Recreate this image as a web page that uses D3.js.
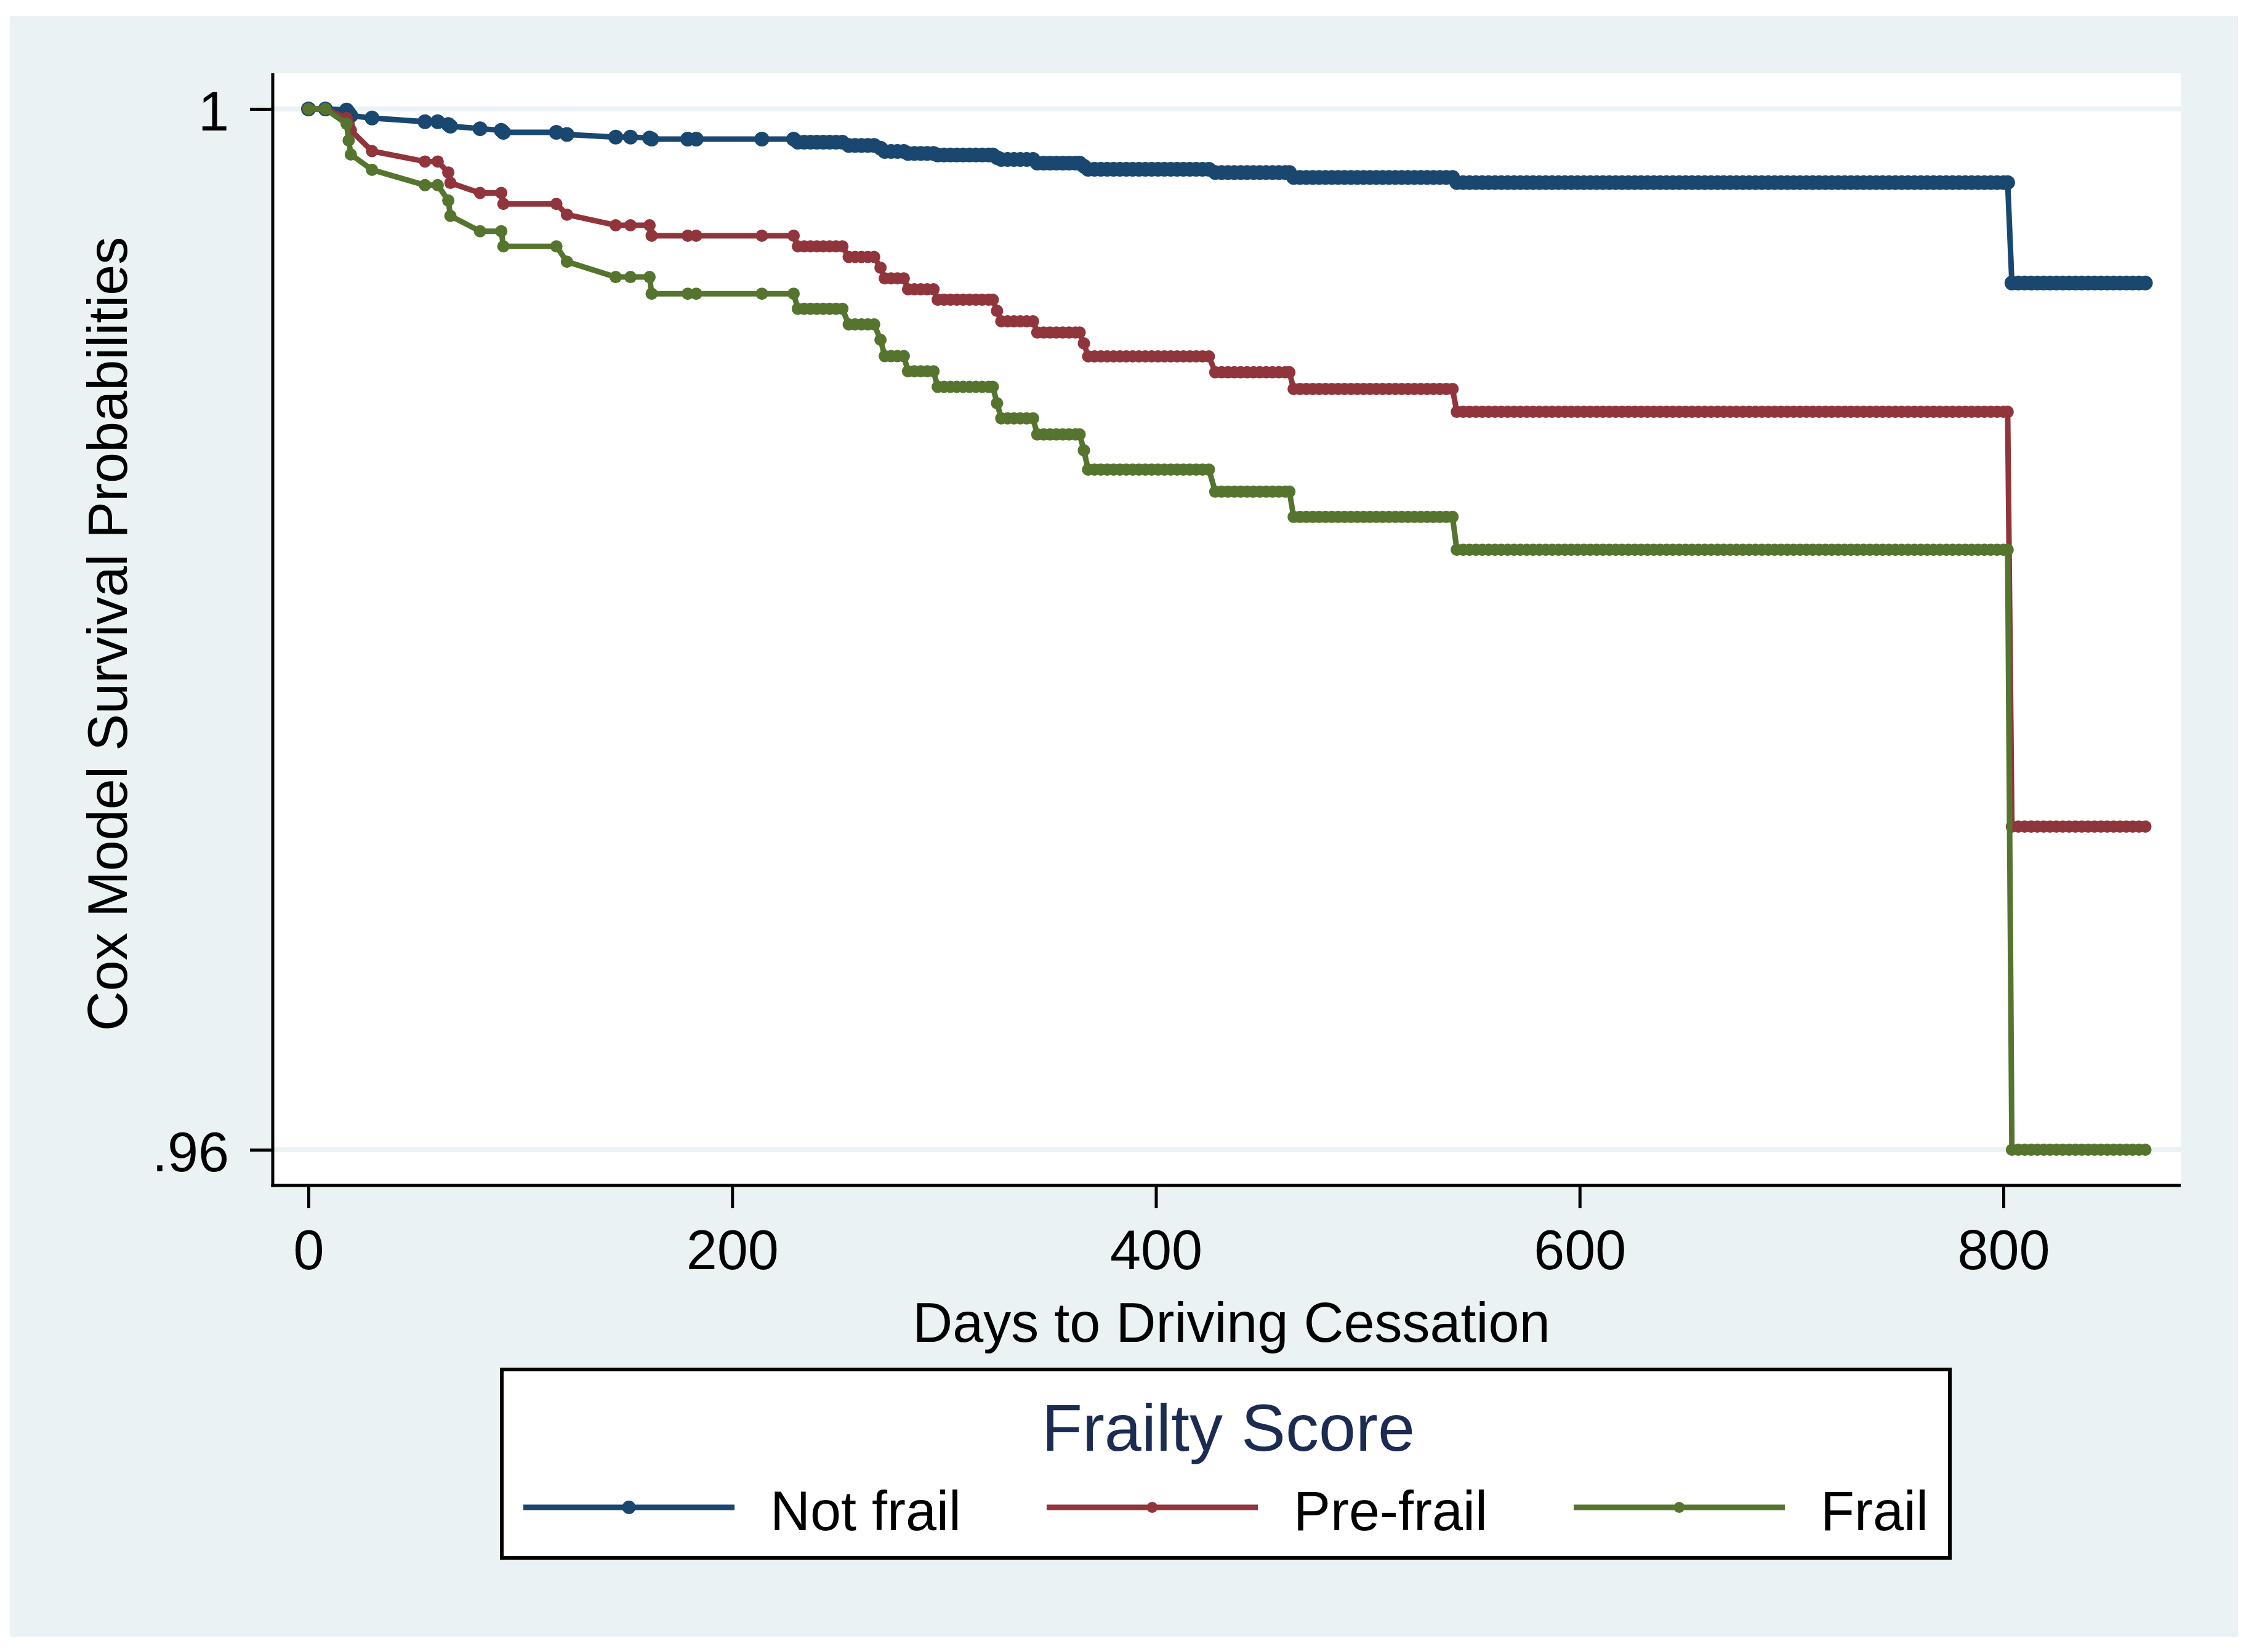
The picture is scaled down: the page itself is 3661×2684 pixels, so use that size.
<!DOCTYPE html>
<html>
<head>
<meta charset="utf-8">
<script src="https://cdn.jsdelivr.net/npm/d3@7"></script>
<style>
  body { margin: 0; background: #fff; }
  svg text { font-family: "Liberation Sans", Arial, Helvetica, sans-serif; }
</style>
</head>
<body>
<svg id="chart" width="3661" height="2684"></svg>
<script>
// days where the baseline survival steps down (shared by all groups)
var eventDays = [0, 18, 19, 20, 30, 55, 66, 67, 81, 91, 92, 122, 145, 161, 162,
  231, 255, 270, 272, 283, 297, 325, 327, 344, 366, 368, 428, 465, 542, 804];
// survival level reached at each of the days above
var notFrail = [1, .99996, .99985, .99974, .99965, .99951, .9994, .99934, .99924, .99918,
  .9991, .99902, .99892, .99888, .99884, .99872, .9986, .99849, .99837, .99829,
  .99823, .99813, .99806, .99792, .9978, .99768, .99756, .99737, .99717, .99331];
var preFrail = [1, .99965, .9994, .99918, .99838, .99798, .99756, .99716, .99677, .99677,
  .99635, .99594, .99553, .99553, .99513, .99472, .99431, .9939, .99349, .99307,
  .99267, .99224, .99184, .99141, .99099, .99049, .98988, .98924, .98836, .97242];
var frail = [1, .99943, .99879, .99825, .99766, .99707, .99648, .99589, .9953, .9953,
  .99472, .99413, .99354, .99354, .9929, .99232, .99172, .99113, .9905, .98992,
  .98932, .98869, .98811, .98749, .98688, .98614, .98529, .98432, .98306, .96];
// other observed days (markers with no drop)
var censorDays = [8, 61, 117, 152, 179, 183, 214, 229,
  234, 237, 240, 243, 246, 249, 252, 258, 261, 264, 267, 275, 278, 281,
  286, 289, 292, 295, 300, 303, 306, 309, 312, 315, 318, 321, 323,
  330, 333, 336, 339, 342, 347, 350, 353, 356, 359, 362, 364,
  371, 374, 377, 380, 383, 386, 389, 392, 395, 398, 401, 404, 407, 410, 413, 416, 419, 422, 425,
  431, 434, 437, 440, 443, 446, 449, 452, 455, 458, 461, 463,
  468, 471, 474, 477, 480, 483, 486, 489, 492, 495, 498, 501, 504, 507, 510, 513, 516, 519,
  522, 525, 528, 531, 534, 537, 540,
  545, 548, 551, 554, 557, 560, 563, 566, 569, 572, 575, 578, 581, 584, 587, 590, 593, 596,
  599, 602, 605, 608, 611, 614, 617, 620, 623, 626, 629, 632, 635, 638, 641, 644, 647, 650,
  653, 656, 659, 662, 665, 668, 671, 674, 677, 680, 683, 686, 689, 692, 695, 698, 701, 704,
  707, 710, 713, 716, 719, 722, 725, 728, 731, 734, 737, 740, 743, 746, 749, 752, 755, 758,
  761, 764, 767, 770, 773, 776, 779, 782, 785, 788, 791, 794, 797, 800, 802,
  807, 810, 813, 816, 819, 822, 825, 828, 831, 834, 837, 840, 843, 846, 849, 852, 855, 858,
  861, 864, 867];
var groupNames = ["Not frail", "Pre-frail", "Frail"];
var groupColors = ["#1a476f", "#90353b", "#55752f"];
var xTicks = [0, 200, 400, 600, 800];
var yTicks = [0.96, 1];
var yTickLabels = [".96", "1"];

var svg = d3.select("#chart");

// outer background
svg.append("rect").attr("x", 16).attr("y", 26).attr("width", 3619).attr("height", 2633)
  .attr("fill", "#eaf2f3");

var plotL = 443, plotR = 3542, plotT = 119, plotB = 1926;
svg.append("rect").attr("x", plotL).attr("y", plotT).attr("width", plotR - plotL)
  .attr("height", plotB - plotT).attr("fill", "#fff");

var x = d3.scaleLinear().domain([0, 800]).range([501, 3254]);
var y = d3.scaleLinear().domain([0.96, 1]).range([1868, 177]);

// gridlines
svg.append("g").selectAll("line").data(yTicks).enter().append("line")
  .attr("x1", plotL).attr("x2", plotR)
  .attr("y1", d => y(d)).attr("y2", d => y(d))
  .attr("stroke", "#eaf2f3").attr("stroke-width", 8);

// build the points of each curve
var allDays = eventDays.concat(censorDays).sort((a, b) => a - b);
function curve(levels) {
  return allDays.map(function(t) {
    var i = d3.bisectRight(eventDays, t) - 1;
    return { day: t, s: levels[i] };
  });
}
var series = [notFrail, preFrail, frail].map(curve);
var radii = [12, 10, 10];

var line = d3.line().x(d => x(d.day)).y(d => y(d.s));

series.forEach(function(pts, k) {
  var g = svg.append("g");
  g.append("path").datum(pts).attr("d", line).attr("fill", "none")
    .attr("stroke", groupColors[k]).attr("stroke-width", 9).attr("stroke-linejoin", "round");
  g.selectAll("circle").data(pts).enter().append("circle")
    .attr("cx", d => x(d.day)).attr("cy", d => y(d.s)).attr("r", radii[k])
    .attr("fill", groupColors[k]);
});

// axes
var yAxis = svg.append("g").attr("transform", "translate(" + plotL + ",0)")
  .call(d3.axisLeft(y).tickValues(yTicks).tickSize(37).tickPadding(34)
    .tickFormat((d, i) => yTickLabels[i]));
yAxis.select(".domain").remove();
yAxis.selectAll("line").attr("stroke", "#000").attr("stroke-width", 5);
yAxis.selectAll("text").attr("font-size", 90).attr("fill", "#000").attr("dy", "0.38em");

var xAxis = svg.append("g").attr("transform", "translate(0," + plotB + ")")
  .call(d3.axisBottom(x).tickValues(xTicks).tickSize(37).tickPadding(35));
xAxis.select(".domain").remove();
xAxis.selectAll("line").attr("stroke", "#000").attr("stroke-width", 5);
xAxis.selectAll("text").attr("font-size", 90).attr("fill", "#000");

svg.append("line").attr("x1", plotL).attr("x2", plotL).attr("y1", plotT).attr("y2", plotB + 2.5)
  .attr("stroke", "#000").attr("stroke-width", 5);
svg.append("line").attr("x1", plotL - 2.5).attr("x2", plotR).attr("y1", plotB).attr("y2", plotB)
  .attr("stroke", "#000").attr("stroke-width", 5);

// axis titles
svg.append("text").attr("x", 2000).attr("y", 2180).attr("text-anchor", "middle")
  .attr("font-size", 90).text("Days to Driving Cessation");
svg.append("text").attr("transform", "translate(206,1030) rotate(-90)")
  .attr("text-anchor", "middle").attr("font-size", 90)
  .text("Cox Model Survival Probabilities");

// legend
var lg = svg.append("g");
lg.append("rect").attr("x", 815).attr("y", 2225).attr("width", 2352).attr("height", 306)
  .attr("fill", "#fff").attr("stroke", "#000").attr("stroke-width", 6);
lg.append("text").attr("x", 1995).attr("y", 2357).attr("text-anchor", "middle")
  .attr("font-size", 108).attr("fill", "#1c2b52").text("Frailty Score");
var keyX = [850, 1700, 2556];
groupNames.forEach(function(name, k) {
  lg.append("line").attr("x1", keyX[k]).attr("x2", keyX[k] + 343)
    .attr("y1", 2449).attr("y2", 2449)
    .attr("stroke", groupColors[k]).attr("stroke-width", 9);
  lg.append("circle").attr("cx", keyX[k] + 171.5).attr("cy", 2449).attr("r", radii[k] - 1)
    .attr("fill", groupColors[k]);
  lg.append("text").attr("x", keyX[k] + 401).attr("y", 2486).attr("font-size", 90)
    .text(name);
});
</script>
</body>
</html>
